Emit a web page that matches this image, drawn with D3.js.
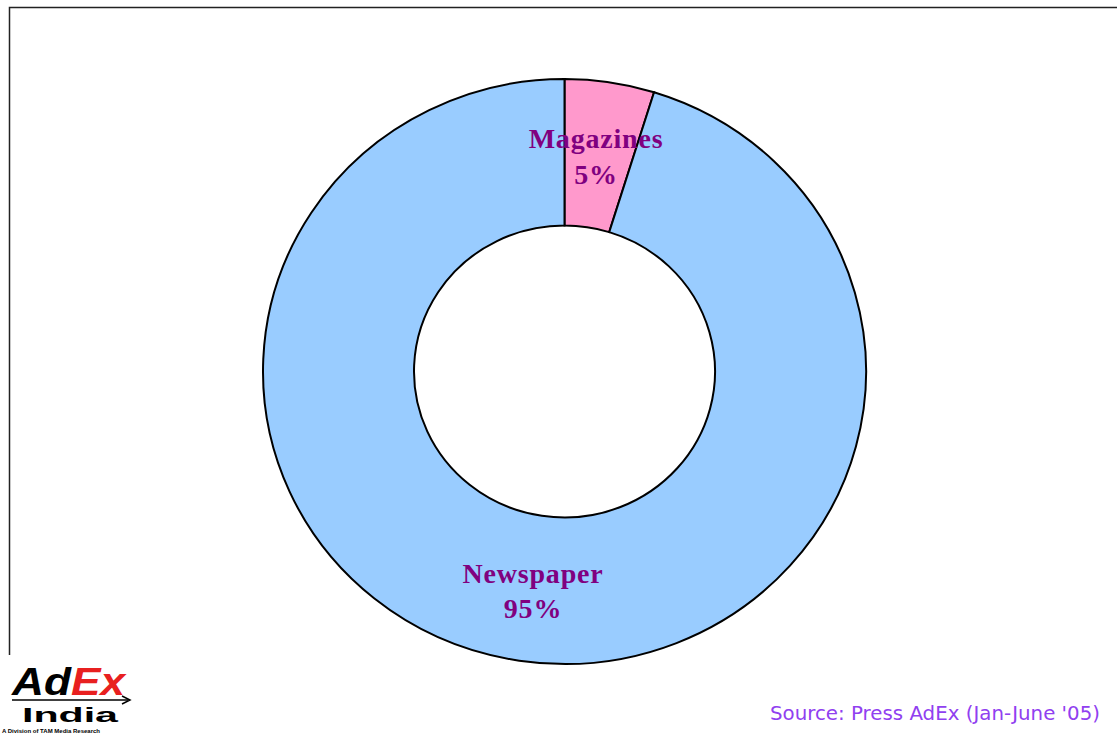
<!DOCTYPE html>
<html><head><meta charset="utf-8">
<script src="https://cdn.jsdelivr.net/npm/d3@7"></script>
<style>html,body{margin:0;padding:0;background:#fff;overflow:hidden}</style>
</head><body>
<svg id="c" width="1117" height="734"></svg>
<script>
const categories = ["Magazines", "Newspaper"];
const shares = [4.8, 95.2];
const colors = ["#ff99cc", "#99ccff"];
const sourceText = "Source: Press AdEx (Jan-June '05)";

const svg = d3.select("#c");
// frame
svg.append("rect").attr("x", 9.5).attr("y", 7.5).attr("width", 1200).attr("height", 800)
  .attr("fill", "#fff").attr("stroke", "#222").attr("stroke-width", 1.5);

const cx = 564.5, cy = 371.5, rOuter = 301.5, rInner = 150.5, sy = 292.5 / 301.5;
const pie = d3.pie().sort(null).value(d => d.v);
const arcs = pie(categories.map((c, i) => ({c, v: shares[i], col: colors[i]})));
const arc = d3.arc().innerRadius(rInner).outerRadius(rOuter);
const g = svg.append("g").attr("transform", `translate(${cx},${cy}) scale(1,${sy})`);
g.selectAll("path").data(arcs).join("path")
  .attr("d", arc).attr("fill", d => d.data.col)
  .attr("stroke", "#000").attr("stroke-width", 2).attr("vector-effect", "non-scaling-stroke");

// labels
const labelPos = {Magazines: [596, 148, 184], Newspaper: [533, 583, 618]};
const lg = svg.append("g").attr("font-family", "'Liberation Serif','Times New Roman',serif")
  .attr("font-weight", "bold").attr("font-size", 28).attr("letter-spacing", 0.8)
  .attr("fill", "#800080").attr("text-anchor", "middle");
arcs.forEach(d => {
  const p = labelPos[d.data.c];
  lg.append("text").attr("x", p[0]).attr("y", p[1]).text(d.data.c);
  lg.append("text").attr("x", p[0]).attr("y", p[2]).text(Math.round(d.data.v) + "%");
});

// source
svg.append("text").attr("x", 770).attr("y", 720)
  .attr("font-family", "'DejaVu Sans',sans-serif").attr("font-size", 19).attr("fill", "#9040f0")
  .attr("textLength", 330).attr("lengthAdjust", "spacingAndGlyphs")
  .text(sourceText);

// logo
const logo = svg.append("g").attr("font-family", "'Liberation Sans',Arial,sans-serif").attr("font-weight", "bold");
logo.append("rect").attr("x", 0).attr("y", 655).attr("width", 140).attr("height", 79).attr("fill", "#fff");
const ad = logo.append("text").attr("x", 12).attr("y", 695).attr("font-size", 38).attr("font-style", "italic")
  .attr("textLength", 113).attr("lengthAdjust", "spacingAndGlyphs");
ad.append("tspan").attr("fill", "#000").text("Ad");
ad.append("tspan").attr("fill", "#e82020").text("Ex");
logo.append("line").attr("x1", 12).attr("x2", 128).attr("y1", 700).attr("y2", 700).attr("stroke", "#000").attr("stroke-width", 1.5);
logo.append("path").attr("d", "M122,696 L130,700 L122,704").attr("fill", "none").attr("stroke", "#000").attr("stroke-width", 1.5);
logo.append("text").attr("x", 22).attr("y", 722).attr("font-size", 20)
  .attr("textLength", 96).attr("lengthAdjust", "spacingAndGlyphs")
  .attr("fill", "#000").text("India");
logo.append("text").attr("x", 2).attr("y", 732.5).attr("font-size", 6).attr("fill", "#000")
  .text("A Division of TAM Media Research");
</script>
</body></html>
